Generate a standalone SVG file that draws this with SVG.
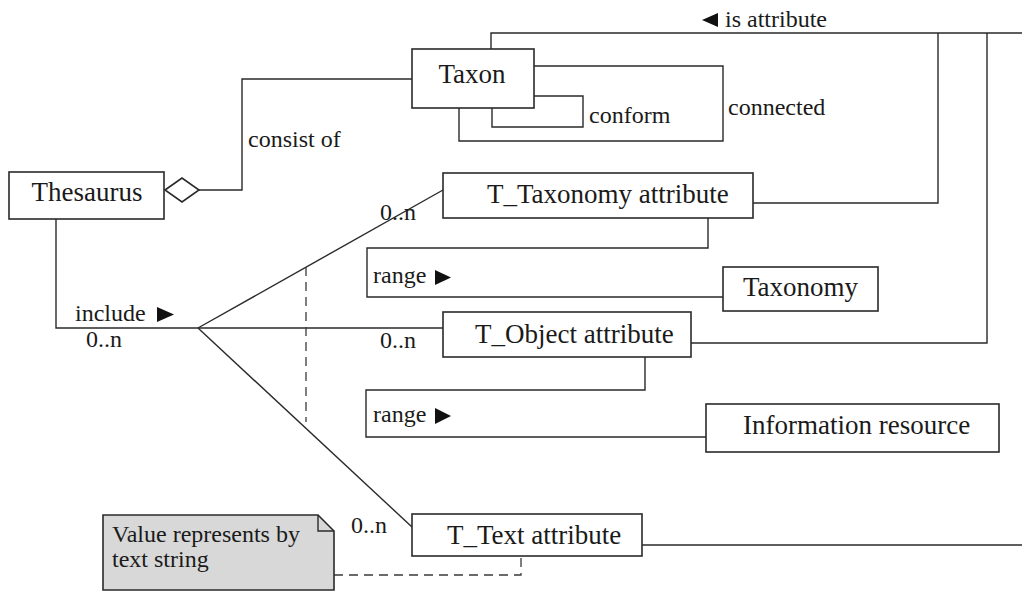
<svg xmlns="http://www.w3.org/2000/svg" width="1022" height="593" viewBox="0 0 1022 593">
  <style>
    .box { fill: #ffffff; stroke: #2a2a2a; stroke-width: 1.6; }
    .note { fill: #d8d8d8; stroke: #2a2a2a; stroke-width: 1.6; }
    .ln { fill: none; stroke: #2a2a2a; stroke-width: 1.4; }
    .dash { fill: none; stroke: #3a3a3a; stroke-width: 1.3; stroke-dasharray: 9 6; }
    .node { font-family: "Liberation Serif", "Times New Roman", serif; font-size: 27px; fill: #1a1a1a; }
    .lbl { font-family: "Liberation Serif", "Times New Roman", serif; font-size: 24px; fill: #1a1a1a; }
    .tri { fill: #111111; }
  </style>

  <!-- connectors -->
  <g id="connectors">
    <!-- aggregation Thesaurus - Taxon -->
    <polygon class="box" points="165,190 182,178 199,190 182,202"/>
    <polyline class="ln" points="199,190 242,190 242,79 412,79"/>
    <text class="lbl" x="248" y="147">consist of</text>

    <!-- Taxon self associations -->
    <polyline class="ln" points="534,96 583,96 583,127 492,127 492,108"/>
    <text class="lbl" x="589" y="123">conform</text>
    <polyline class="ln" points="534,66 723,66 723,141 459,141 459,108"/>
    <text class="lbl" x="728" y="115">connected</text>

    <!-- is attribute -->
    <polyline class="ln" points="491,49 491,33 1022,33"/>
    <polygon class="tri" points="702,20 718,13 718,27"/>
    <text class="lbl" x="725" y="27">is attribute</text>
    <polyline class="ln" points="753,203 938,203 938,33"/>
    <polyline class="ln" points="691,343 987,343 987,33"/>
    <line class="ln" x1="642" y1="545" x2="1022" y2="545"/>

    <!-- include branches -->
    <polyline class="ln" points="56,219 56,328 198,328"/>
    <text class="lbl" x="75" y="321">include</text>
    <polygon class="tri" points="157,307 157,322 174,314.5"/>
    <text class="lbl" x="86" y="347">0..n</text>
    <line class="ln" x1="198" y1="328" x2="443" y2="190"/>
    <line class="ln" x1="198" y1="328" x2="443" y2="328"/>
    <line class="ln" x1="198" y1="328" x2="412" y2="527"/>
    <line class="dash" x1="306" y1="267" x2="306" y2="422"/>
    <text class="lbl" x="380" y="220">0..n</text>
    <text class="lbl" x="380" y="348">0..n</text>
    <text class="lbl" x="351" y="533">0..n</text>

    <!-- range associations -->
    <polyline class="ln" points="708,218 708,248 367,248 367,297 723,297"/>
    <text class="lbl" x="373" y="283">range</text>
    <polygon class="tri" points="435,270 435,285 451,277.5"/>
    <polyline class="ln" points="645,357 645,390 366,390 366,437 706,437"/>
    <text class="lbl" x="373" y="422">range</text>
    <polygon class="tri" points="435,408 435,424 451,416"/>

    <!-- note anchor -->
    <polyline class="dash" points="334,575 521,575 521,558"/>
  </g>

  <g id="thesaurus">
    <rect class="box" x="9" y="172" width="155" height="47"/>
    <text class="node" x="87" y="201" text-anchor="middle">Thesaurus</text>
  </g>

  <g id="taxon">
    <rect class="box" x="412" y="49" width="122" height="59"/>
    <text class="node" x="472" y="83" text-anchor="middle">Taxon</text>
  </g>

  <g id="t-taxonomy-attribute">
    <rect class="box" x="443" y="173" width="310" height="45"/>
    <text class="node" x="487" y="203">T_Taxonomy attribute</text>
  </g>

  <g id="taxonomy">
    <rect class="box" x="723" y="267" width="155" height="44"/>
    <text class="node" x="743" y="296">Taxonomy</text>
  </g>

  <g id="t-object-attribute">
    <rect class="box" x="443" y="312" width="248" height="45"/>
    <text class="node" x="475" y="343">T_Object attribute</text>
  </g>

  <g id="information-resource">
    <rect class="box" x="706" y="404" width="293" height="48"/>
    <text class="node" x="743" y="434">Information resource</text>
  </g>

  <g id="t-text-attribute">
    <rect class="box" x="412" y="514" width="230" height="42"/>
    <text class="node" x="447" y="544">T_Text attribute</text>
  </g>

  <g id="note">
    <polygon class="note" points="103,515 318,515 334,531 334,590 103,590"/>
    <polyline class="ln" points="318,515 318,531 334,531"/>
    <text class="lbl" x="112" y="542">Value represents by</text>
    <text class="lbl" x="112" y="567">text string</text>
  </g>
</svg>
